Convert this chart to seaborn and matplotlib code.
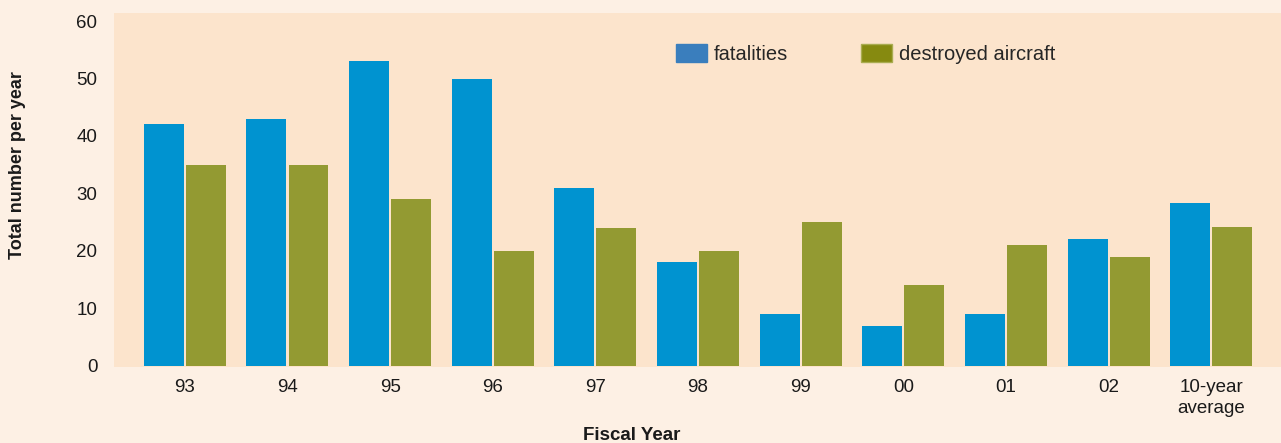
import numpy as np
import pandas as pd
import matplotlib
matplotlib.use("Agg")
import matplotlib.pyplot as plt
from matplotlib.patches import Patch
import seaborn as sns

# data
years = ['93', '94', '95', '96', '97', '98', '99', '00', '01', '02', '10-year\naverage']
fatalities = [42, 43, 53, 50, 31, 18, 9, 7, 9, 22, 28.4]
destroyed = [35, 35, 29, 20, 24, 20, 25, 14, 21, 19, 24.2]

df = pd.DataFrame({
    'year': years * 2,
    'value': fatalities + destroyed,
    'series': ['fatalities'] * len(years) + ['destroyed aircraft'] * len(years),
})

sns.set_style("white")
plt.rcParams['font.family'] = ['Liberation Sans', 'DejaVu Sans']

fig = plt.figure(figsize=(12.81, 4.43), dpi=100)
fig.patch.set_facecolor('#FDF0E4')
ax = fig.add_axes([114/1281, 1-367/443, 1-114/1281, (367-13)/443])
ax.set_facecolor('#FCE4CC')

sns.barplot(data=df, x='year', y='value', hue='series',
            palette={'fatalities': '#0093D0', 'destroyed aircraft': '#939A32'},
            saturation=1, width=0.82, gap=0.05, ax=ax, legend=False,
            linewidth=0)

ax.set_xlim(-0.69, len(years) - 1 + 0.68)
ax.set_ylim(-0.2, 61.4)
ax.set_yticks(range(0, 61, 10))
ax.tick_params(axis='both', length=0, labelsize=13.5, colors='#1a1a1a')
ax.tick_params(axis='y', pad=12)
ax.tick_params(axis='x', pad=9)
for lbl in ax.get_xticklabels():
    lbl.set_linespacing(1.3)
for s in ax.spines.values():
    s.set_visible(False)
ax.set_xlabel('')
ax.set_ylabel('')

fig.text(632/1281, 1-435/443, 'Fiscal Year', ha='center', va='center',
         fontsize=13.5, fontweight='bold', color='#1a1a1a')
fig.text(18/1281, 1-165/443, 'Total number per year', ha='center', va='center',
         rotation=90, fontsize=13, fontweight='bold', color='#1a1a1a')

handles = [Patch(facecolor='#3A7EBD', edgecolor='#3A7EBD', label='fatalities'),
           Patch(facecolor='#868A10', edgecolor='#A9AC50', label='destroyed aircraft')]
ax.legend(handles=handles, ncol=2, frameon=False, loc='center left',
          bbox_to_anchor=(0.466, 0.884), fontsize=14.5,
          handlelength=1.55, handleheight=0.95, handletextpad=0.35, columnspacing=3.6)

fig.savefig('out.png', dpi=100, facecolor=fig.get_facecolor())
